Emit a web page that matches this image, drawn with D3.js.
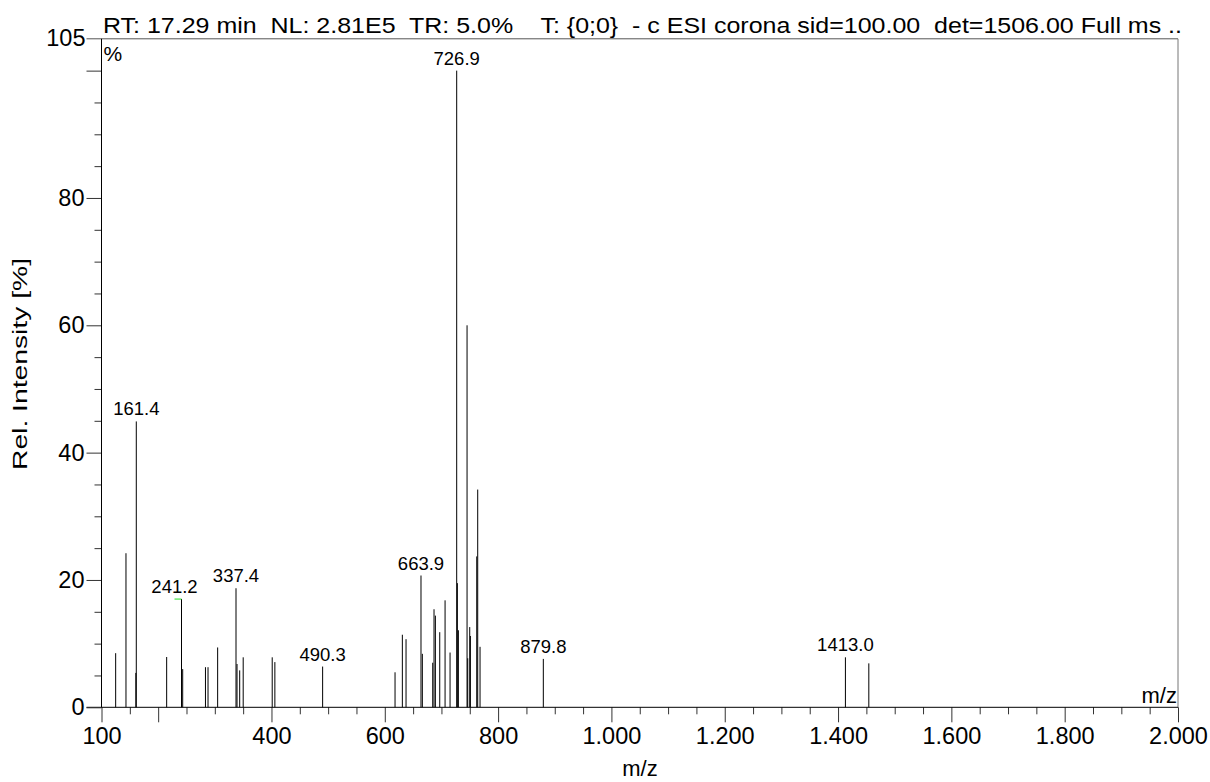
<!DOCTYPE html>
<html>
<head>
<meta charset="utf-8">
<script src="https://cdn.jsdelivr.net/npm/d3@7"></script>
<style>
  html, body { margin: 0; padding: 0; background: #fff; }
  svg { display: block; font-family: "Liberation Sans", Arial, sans-serif; }
</style>
</head>
<body>
<svg id="chart" width="1210" height="782"></svg>
<script>
// Mass spectrum peaks: m/z and relative intensity (%)
const peakMz = [
  125.0, 143.2, 160.6, 161.4, 215.0, 241.2, 243.3, 283.5, 288.0, 305.0,
  337.4, 339.2, 343.9, 350.1, 401.3, 406.0, 490.3,
  618.1, 631.0, 637.5, 663.9, 666.3, 684.6, 686.9, 689.3, 697.0, 706.4,
  715.2, 726.9, 728.1, 729.9, 745.2, 746.4, 749.9, 751.1, 762.3, 764.0,
  768.1, 879.8, 1413.0, 1454.3
];
const peakIntensity = [
  8.5, 24.2, 5.4, 44.9, 7.9, 17.0, 6.0, 6.3, 6.3, 9.4,
  18.7, 6.8, 5.8, 7.85, 7.85, 7.1, 6.4,
  5.5, 11.4, 10.7, 20.7, 8.4, 7.0, 15.4, 14.4, 11.8, 16.8,
  8.6, 100, 19.5, 12.1, 60.0, 7.7, 12.6, 11.2, 23.7, 34.2,
  9.5, 7.6, 7.85, 6.9
];
// Peaks annotated with their m/z
const labeledMz = [161.4, 241.2, 337.4, 490.3, 663.9, 726.9, 879.8, 1413.0];
const markedMz = 241.2;

// Axis ticks
const xMajorTicks = d3.range(200, 2001, 200).concat([100]);
const xMinorTicks = d3.range(150, 2000, 50).filter(v => v % 200 !== 0);
const xLabelTicks = [100, 400, 600, 800, 1000, 1200, 1400, 1600, 1800, 2000];
const yMajorTicks = [0, 20, 40, 60, 80, 100];
const yMinorTicks = d3.range(5, 105, 5).filter(v => v % 20 !== 0);
const yLabelTicks = [0, 20, 40, 60, 80];
const yTop = 105;

const headerText = "RT: 17.29 min  NL: 2.81E5  TR: 5.0%    T: {0;0}  - c ESI corona sid=100.00  det=1506.00 Full ms ..";
const yTitle = "Rel. Intensity [%]";
const xTitle = "m/z";

const peaks = peakMz.map((m, i) => ({ mz: m, v: peakIntensity[i] }));

const svg = d3.select("#chart");
const plotLeft = 101.5, plotRight = 1178, plotTop = 38.8, plotBottom = 707.3;

const x = d3.scaleLinear().domain([100, 2000]).range([plotLeft, plotRight]);
const y = d3.scaleLinear().domain([0, yTop]).range([plotBottom, plotTop]);

const locale = d3.formatLocale({ decimal: ",", thousands: ".", grouping: [3], currency: ["", ""] });
const fmtThousands = locale.format(",d");

// Frame: top and right edges
svg.append("line")
  .attr("x1", plotLeft - 15).attr("x2", plotRight)
  .attr("y1", y(yTop)).attr("y2", y(yTop))
  .attr("stroke", "#555").attr("stroke-width", 1);
svg.append("line")
  .attr("x1", plotRight).attr("x2", plotRight)
  .attr("y1", y(yTop)).attr("y2", plotBottom)
  .attr("stroke", "#777").attr("stroke-width", 1);

// X axis: major ticks with labels, minor ticks without
const xMajor = svg.append("g").attr("transform", `translate(0,${plotBottom})`)
  .call(d3.axisBottom(x).tickValues(xMajorTicks).tickSize(15).tickPadding(5)
    .tickFormat(d => xLabelTicks.includes(d) ? fmtThousands(d) : ""));
const xMinor = svg.append("g").attr("transform", `translate(0,${plotBottom})`)
  .call(d3.axisBottom(x).tickValues(xMinorTicks).tickSize(7).tickFormat(""));
xMinor.select(".domain").remove();
xMajor.select(".domain").remove();
svg.append("line")
  .attr("x1", plotLeft - 15).attr("x2", plotRight)
  .attr("y1", plotBottom).attr("y2", plotBottom)
  .attr("stroke", "#000").attr("stroke-width", 1);

// Y axis
const yMajor = svg.append("g").attr("transform", `translate(${plotLeft},0)`)
  .call(d3.axisLeft(y).tickValues(yMajorTicks).tickSize(15).tickPadding(2)
    .tickFormat(d => yLabelTicks.includes(d) ? d : ""));
const yMinor = svg.append("g").attr("transform", `translate(${plotLeft},0)`)
  .call(d3.axisLeft(y).tickValues(yMinorTicks).tickSize(7).tickFormat(""));
yMinor.select(".domain").remove();
yMajor.select(".domain").remove();
svg.append("line")
  .attr("x1", plotLeft).attr("x2", plotLeft)
  .attr("y1", y(yTop)).attr("y2", plotBottom)
  .attr("stroke", "#000").attr("stroke-width", 1);
svg.append("text")
  .attr("x", plotLeft - 16).attr("y", y(yTop)).attr("dy", "0.32em")
  .attr("text-anchor", "end").attr("font-size", 23.5).text(yTop);

svg.selectAll(".tick line").attr("stroke", "#333");
svg.selectAll(".tick text")
  .attr("font-family", "Liberation Sans, Arial, sans-serif")
  .attr("font-size", 23.5).attr("fill", "#000");

// Header line above the plot
svg.append("text")
  .attr("x", 103).attr("y", 33)
  .attr("font-size", 22.5)
  .attr("textLength", 1079).attr("lengthAdjust", "spacingAndGlyphs")
  .style("white-space", "pre")
  .text(headerText);

// Axis titles
svg.append("text")
  .attr("transform", `translate(27,364) rotate(-90)`)
  .attr("text-anchor", "middle").attr("font-size", 21)
  .attr("textLength", 212).attr("lengthAdjust", "spacingAndGlyphs")
  .text(yTitle);
svg.append("text")
  .attr("x", 640).attr("y", 776)
  .attr("text-anchor", "middle").attr("font-size", 22)
  .text(xTitle);
svg.append("text")
  .attr("x", plotRight - 1).attr("y", plotBottom - 4)
  .attr("text-anchor", "end").attr("font-size", 22)
  .text(xTitle);
svg.append("text")
  .attr("x", plotLeft + 2).attr("y", 61)
  .attr("font-size", 21)
  .text("%");

// Peak sticks
svg.append("g").selectAll("line").data(peaks).join("line")
  .attr("x1", d => x(d.mz)).attr("x2", d => x(d.mz))
  .attr("y1", y(0)).attr("y2", d => y(d.v))
  .attr("stroke", "#000").attr("stroke-width", 1);

// Cursor marker on the selected peak
const marked = peaks.find(d => d.mz === markedMz);
svg.append("line")
  .attr("x1", x(marked.mz) - 7).attr("x2", x(marked.mz))
  .attr("y1", y(marked.v)).attr("y2", y(marked.v))
  .attr("stroke", "#22dd22").attr("stroke-width", 1);

// Peak annotations
svg.append("g").selectAll("text")
  .data(peaks.filter(d => labeledMz.includes(d.mz)))
  .join("text")
  .attr("x", d => x(d.mz) - (d.mz === markedMz ? 7 : 0))
  .attr("y", d => y(d.v) - 6)
  .attr("text-anchor", "middle")
  .attr("font-size", 18.5)
  .text(d => d.mz.toFixed(1));
</script>
</body>
</html>
